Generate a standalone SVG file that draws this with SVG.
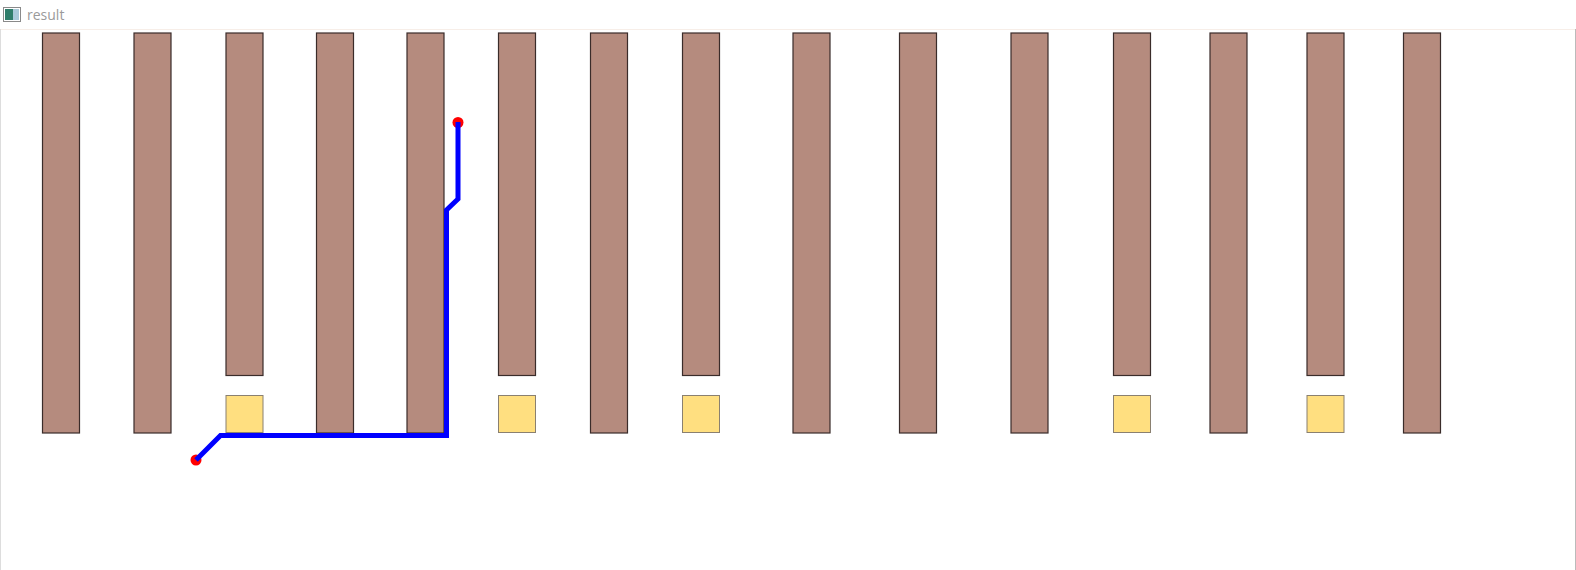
<svg xmlns="http://www.w3.org/2000/svg" width="1576" height="570" viewBox="0 0 1576 570">
<style>
.bar{fill:#b58b7e;stroke:#3a2c2a;stroke-width:1.2}
.pad{fill:#ffdf80;stroke:#8a8070;stroke-width:1}
.route{fill:none;stroke:#0000ff;stroke-width:5;stroke-linejoin:miter}
.pin{fill:#ff0000}
</style>
<rect width="1576" height="570" fill="#ffffff"/>
<g id="titlebar">
<rect x="3.5" y="7.5" width="17" height="14" fill="#ffffff" stroke="#8a8a8a" stroke-width="1"/>
<rect x="5" y="9" width="8" height="11" fill="#2f7d6a"/>
<rect x="13" y="9" width="6" height="11" fill="#a9c9d9"/>
<text x="27" y="20" font-family="'Open Sans', 'Liberation Sans', sans-serif" font-size="14" fill="#9a9a9a">result</text>
<line x1="0" y1="29.5" x2="1576" y2="29.5" stroke="#f7eee8" stroke-width="1"/>
<line x1="0.5" y1="29" x2="0.5" y2="570" stroke="#dddddd" stroke-width="1"/>
<line x1="1575.5" y1="29" x2="1575.5" y2="570" stroke="#bbbbbb" stroke-width="1"/>
</g>
<g id="bar1"><rect class="bar" x="42.5" y="33" width="37" height="400"/></g>
<g id="bar2"><rect class="bar" x="134" y="33" width="37" height="400"/></g>
<g id="bar3"><rect class="bar" x="226" y="33" width="37" height="342.5"/></g>
<g id="pad3"><rect class="pad" x="226" y="395.5" width="37" height="37"/></g>
<g id="bar4"><rect class="bar" x="316.5" y="33" width="37" height="400"/></g>
<g id="bar5"><rect class="bar" x="407" y="33" width="37" height="400"/></g>
<g id="bar6"><rect class="bar" x="498.5" y="33" width="37" height="342.5"/></g>
<g id="pad6"><rect class="pad" x="498.5" y="395.5" width="37" height="37"/></g>
<g id="bar7"><rect class="bar" x="590.5" y="33" width="37" height="400"/></g>
<g id="bar8"><rect class="bar" x="682.5" y="33" width="37" height="342.5"/></g>
<g id="pad8"><rect class="pad" x="682.5" y="395.5" width="37" height="37"/></g>
<g id="bar9"><rect class="bar" x="793" y="33" width="37" height="400"/></g>
<g id="bar10"><rect class="bar" x="899.5" y="33" width="37" height="400"/></g>
<g id="bar11"><rect class="bar" x="1011" y="33" width="37" height="400"/></g>
<g id="bar12"><rect class="bar" x="1113.5" y="33" width="37" height="342.5"/></g>
<g id="pad12"><rect class="pad" x="1113.5" y="395.5" width="37" height="37"/></g>
<g id="bar13"><rect class="bar" x="1210" y="33" width="37" height="400"/></g>
<g id="bar14"><rect class="bar" x="1307" y="33" width="37" height="342.5"/></g>
<g id="pad14"><rect class="pad" x="1307" y="395.5" width="37" height="37"/></g>
<g id="bar15"><rect class="bar" x="1403.5" y="33" width="37" height="400"/></g>
<g id="pins">
<circle class="pin" cx="196" cy="460" r="5.5"/>
<circle class="pin" cx="458" cy="122.5" r="5.5"/>
</g>
<g id="connectors">
<path class="route" d="M196,460 L220.5,435.5 L446.5,435.5 L446.5,210 L458,199 L458,122"/>
</g>
</svg>
